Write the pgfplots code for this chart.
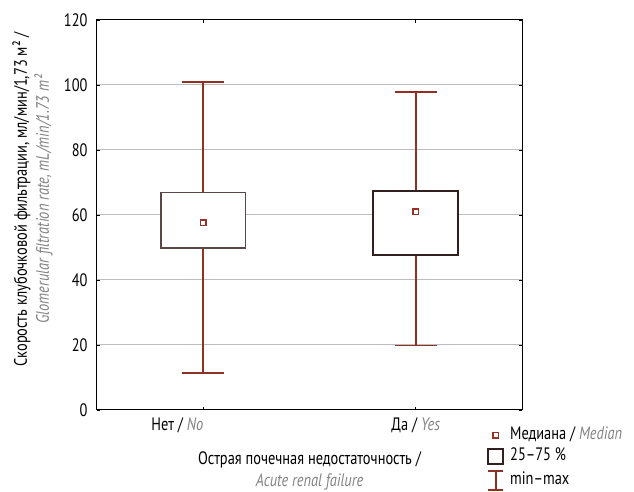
\documentclass[border=0pt]{standalone}
\usepackage{fontspec}
\setmainfont{PT Sans}[FakeStretch=0.8]
\usepackage{pgfplots}
\pgfplotsset{compat=1.18}
\definecolor{wred}{RGB}{145,48,36}
\definecolor{mred}{RGB}{150,50,40}
\definecolor{boxa}{RGB}{90,72,72}
\definecolor{boxb}{RGB}{50,32,32}
\definecolor{ital}{RGB}{130,130,130}
\newcommand{\en}[1]{{\itshape\color{ital}#1}}
\begin{document}
\begin{tikzpicture}[x=1pt,y=1pt]
\begin{axis}[
  at={(0,0)}, anchor=south west,
  scale only axis, width=425pt, height=390pt,
  xmin=-0.5, xmax=1.5, ymin=0, ymax=120,
  xtick={0,1},
  xticklabels={{\makebox[0pt][r]{Нет / \en{No}}}, {Да / \en{Yes}}},
  ytick={0,20,...,120},
  font=\fontsize{18}{22}\selectfont,
  tick label style={font=\fontsize{18}{21}\selectfont},
  yticklabel style={xshift=-6pt},
  xticklabel style={yshift=-4pt},
  /pgf/number format/assume math mode=true,
  tick align=inside, major tick length=3pt,
  tick style={black, line width=0.6pt},
  ymajorgrids, grid style={draw=black!26, line width=1pt},
  axis line style={line width=1pt},
  xlabel={Острая почечная недостаточность /\\ \en{Acute renal failure}},
  xlabel style={align=center, at={(axis description cs:0.5,-0.157)}, anchor=center},
  ylabel={Скорость клубочковой фильтрации, мл/мин/1,73 м² /\\ \en{Glomerular filtration rate, mL/min/1.73 m²}},
  ylabel style={align=center, at={(axis description cs:-0.152,0.54)}, anchor=center},
  legend style={at={(axis description cs:0.918,-0.0436)}, anchor=north west,
    draw=none, fill=none, inner sep=0pt, row sep=5pt,
    nodes={inner sep=0pt, text height=12pt, text depth=4pt, font=\fontsize{18}{21}\selectfont},
    /tikz/every odd column/.style={column sep=6pt}},
  legend cell align=left,
]
% whiskers
\addplot[wred, line width=1.6pt, forget plot] coordinates {(0,11.4) (0,101.0)};
\addplot[wred, line width=1.6pt, forget plot] coordinates {(-0.099,101.0) (0.099,101.0)};
\addplot[wred, line width=1.6pt, forget plot] coordinates {(-0.099,11.4) (0.099,11.4)};
\addplot[wred, line width=1.6pt, forget plot] coordinates {(1,19.8) (1,97.9)};
\addplot[wred, line width=1.6pt, forget plot] coordinates {(0.901,97.9) (1.099,97.9)};
\addplot[wred, line width=1.6pt, forget plot] coordinates {(0.901,19.8) (1.099,19.8)};
% boxes
\addplot[draw=boxa, fill=white, line width=1.4pt, forget plot] coordinates {(-0.198,49.8) (0.198,49.8) (0.198,66.9) (-0.198,66.9)} --cycle;
\addplot[draw=boxb, fill=white, line width=2pt, forget plot] coordinates {(0.8,47.7) (1.198,47.7) (1.198,67.5) (0.8,67.5)} --cycle;
% medians
\addplot[only marks, mark=square, mark size=2.8pt, mark options={draw=mred, line width=1.3pt, fill=white}, forget plot] coordinates {(0,57.6) (1,61.0)};
% legend
\addlegendimage{legend image code/.code={\path (-8pt,0) (8pt,0); \draw[mred, line width=1.4pt, fill=white] (-2.8pt,-2.8pt) rectangle (2.8pt,2.8pt);}}
\addlegendentry{Медиана / \en{Median}}
\addlegendimage{legend image code/.code={\path (-8pt,0) (8pt,0); \draw[boxb, line width=1.8pt, fill=white] (-7.5pt,-7.5pt) rectangle (7.5pt,7.5pt);}}
\addlegendentry{25–75 \%}
\addlegendimage{legend image code/.code={\path (-8pt,0) (8pt,0); \draw[wred, line width=1.6pt] (0,-9.5pt) -- (0,9.5pt) (-7.5pt,9.5pt) -- (7.5pt,9.5pt) (-7.5pt,-9.5pt) -- (7.5pt,-9.5pt);}}
\addlegendentry{min–max}
\end{axis}
\pgfresetboundingbox
\path (-97,-82) rectangle (537,410);
\end{tikzpicture}
\end{document}
